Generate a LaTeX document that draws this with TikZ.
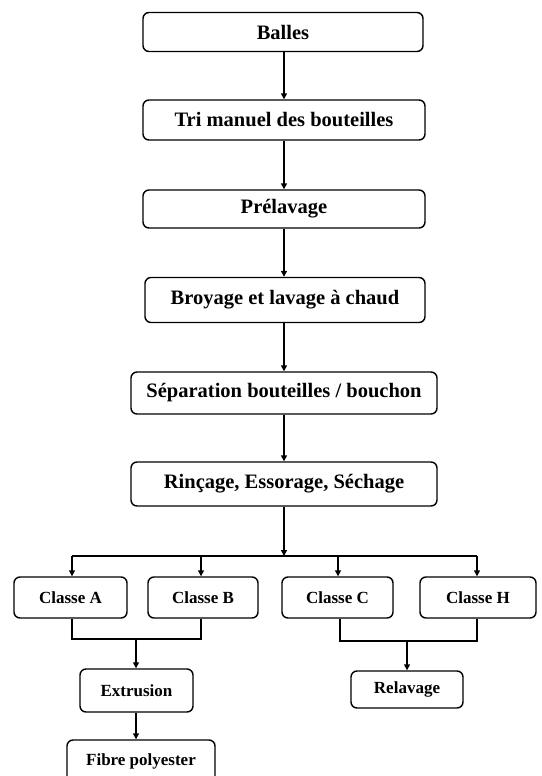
\documentclass[tikz,border=0pt]{standalone}
\usepackage{fontspec}
\setmainfont{Liberation Serif}
\usetikzlibrary{arrows.meta}
\tikzset{
  box/.style={draw, line width=1.4pt, rounded corners=6pt, font=\bfseries\fontsize{20.5}{23}\selectfont, inner sep=0pt},
  cbox/.style={box, font=\bfseries\fontsize{17}{19}\selectfont},
  conn/.style={line width=1.4pt, -{Triangle[length=6pt,width=6pt]}},
  line/.style={line width=1.4pt}
}
\begin{document}
\begin{tikzpicture}[x=1pt,y=-1pt]
\useasboundingbox (0,0) rectangle (541,776);
\clip (0,0) rectangle (541,776);
% main chain
\node[box, minimum width=280pt, minimum height=39pt] (b1) at (283,32) {Balles};
\node[box, minimum width=282pt, minimum height=40pt] (b2) at (284,120) {Tri manuel des bouteilles};
\node[box, minimum width=282pt, minimum height=38pt] (b3) at (284,209) {Prélavage};
\node[box, minimum width=280pt, minimum height=45pt] (b4) at (285,300) {Broyage et lavage à chaud};
\node[box, minimum width=306pt, minimum height=42pt] (b5) at (284,393) {Séparation bouteilles / bouchon};
\node[box, minimum width=306pt, minimum height=44pt] (b6) at (284,484) {Rinçage, Essorage, Séchage};
% classes
\node[cbox, minimum width=113pt, minimum height=41pt] (ca) at (70.5,597.5) {Classe A};
\node[cbox, minimum width=110pt, minimum height=41pt] (cb) at (203,597.5) {Classe B};
\node[cbox, minimum width=111pt, minimum height=41pt] (cc) at (337.5,597.5) {Classe C};
\node[cbox, minimum width=116pt, minimum height=41pt] (ch) at (478,597.5) {Classe H};
\node[cbox, minimum width=113pt, minimum height=43pt] (ex) at (136.5,690.5) {Extrusion};
\node[cbox, minimum width=112pt, minimum height=37pt] (rl) at (407,689.5) {Relavage};
\node[cbox, minimum width=148pt, minimum height=50pt] (fp) at (141,765) {\raisebox{10pt}{Fibre polyester}};
% arrows main
\coordinate (ax) at (284,0);
\draw[conn] (b1.south -| ax) -- (b2.north -| ax);
\draw[conn] (b2.south -| ax) -- (b3.north -| ax);
\draw[conn] (b3.south -| ax) -- (b4.north -| ax);
\draw[conn] (b4.south -| ax) -- (b5.north -| ax);
\draw[conn] (b5.south -| ax) -- (b6.north -| ax);
% split
\coordinate (sp) at (284,556);
\draw[conn] (b6.south) -- (sp);
\coordinate (xa) at (72,556);
\coordinate (xb) at (201,556);
\coordinate (xc) at (338,556);
\coordinate (xh) at (477,556);
\draw[line] (xa) -- (xh);
\draw[conn] (xa) -- (ca.north -| xa);
\draw[conn] (xb) -- (cb.north -| xb);
\draw[conn] (xc) -- (cc.north -| xc);
\draw[conn] (xh) -- (ch.north -| xh);
% merge A,B
\coordinate (mab) at (136,639);
\draw[line] (ca.south -| xa) |- (mab) -| (cb.south -| xb);
\draw[conn] (mab) -- (ex.north -| mab);
\draw[conn] (ex.south -| mab) -- (fp.north -| mab);
% merge C,H
\coordinate (mch) at (407,641);
\coordinate (xc2) at (340,0);
\draw[line] (cc.south -| xc2) |- (mch) -| (ch.south -| xh);
\draw[conn] (mch) -- (rl.north);
\end{tikzpicture}
\end{document}
